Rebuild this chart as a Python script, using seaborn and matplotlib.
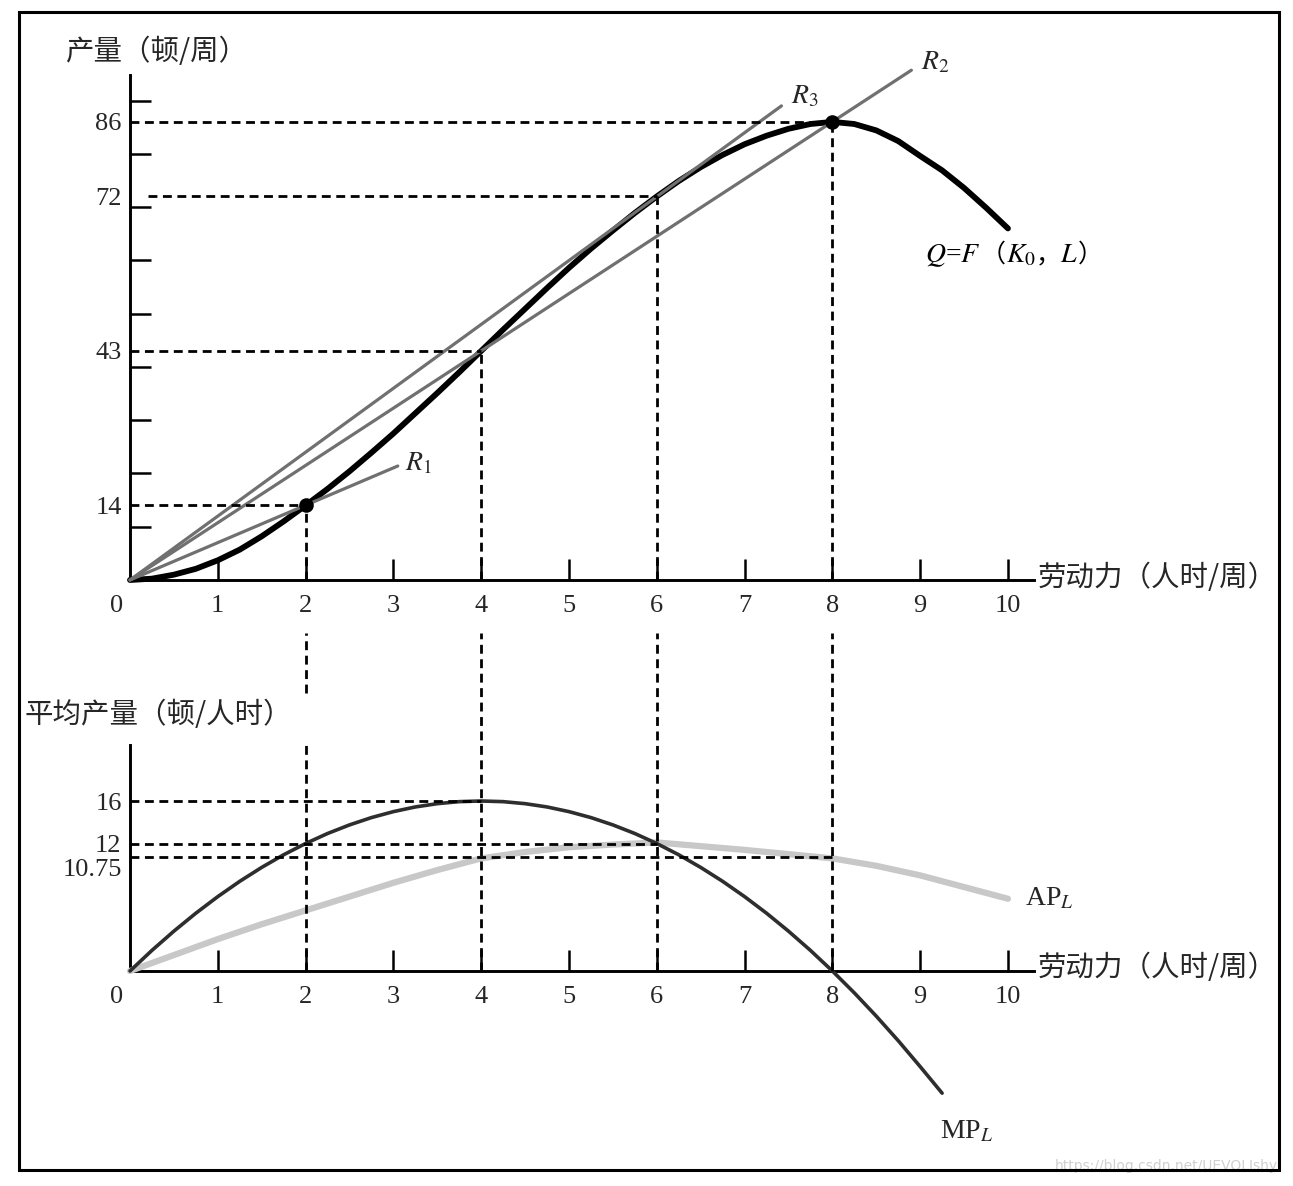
import matplotlib
matplotlib.use("Agg")
import matplotlib.pyplot as plt
import seaborn as sns
import pandas as pd
from matplotlib.patches import Rectangle
from matplotlib.offsetbox import TextArea, HPacker, AnnotationBbox

sns.set_theme(style="white")
plt.rcParams['font.family'] = ['Liberation Serif', 'Noto Sans CJK SC', 'DejaVu Sans']
plt.rcParams['mathtext.fontset'] = 'stix'
plt.rcParams['axes.unicode_minus'] = False

CJK = ['Noto Sans CJK SC', 'DejaVu Sans']

# ---- data ----
# total product Q=F(K0, L)
q_labor = [0, 0.25, 0.5, 0.75, 1, 1.25, 1.5, 1.75, 2, 2.25, 2.5, 2.75, 3,
           3.25, 3.5, 3.75, 4, 4.25, 4.5, 4.75, 5, 5.25, 5.5, 5.75, 6,
           6.25, 6.5, 6.75, 7, 7.25, 7.5, 7.75, 8, 8.25, 8.5, 8.75, 9,
           9.25, 9.5, 9.75, 10]
output_q = [0, 0.25, 1.0, 2.1, 3.7, 5.7, 8.2, 11.0, 14, 17.1, 20.4, 23.9, 27.5,
            31.3, 35.1, 39.0, 43, 47.0, 50.9, 54.8, 58.6, 62.2, 65.6, 68.9, 72,
            74.9, 77.5, 79.8, 81.8, 83.4, 84.7, 85.6, 86, 85.6, 84.4, 82.4, 79.6,
            76.9, 73.6, 69.9, 66]

# average product AP_L
ap_labor = [0, 0.5, 1, 1.5, 2, 2.5, 3, 3.5, 4, 4.5, 5,
            5.5, 6, 6.5, 7, 7.5, 8, 8.5, 9, 9.5, 10]
avg_product = [0, 1.5, 3.0, 4.4, 5.7, 7.0, 8.3, 9.5, 10.6, 11.2, 11.65,
               11.9, 12.1, 11.75, 11.4, 11.0, 10.6, 9.9, 9.0, 7.9, 6.8]

# marginal product MP_L
mp_labor = [0, 0.25, 0.5, 0.75, 1, 1.25, 1.5, 1.75, 2, 2.25, 2.5, 2.75, 3,
            3.25, 3.5, 3.75, 4, 4.25, 4.5, 4.75, 5, 5.25, 5.5, 5.75, 6,
            6.25, 6.5, 6.75, 7, 7.25, 7.5, 7.75, 8, 8.25, 8.5, 8.75, 9, 9.25]
marg_product = [0, 1.94, 3.75, 5.44, 7, 8.44, 9.75, 10.94, 12, 12.94, 13.75, 14.44, 15,
                15.44, 15.75, 15.94, 16, 15.94, 15.75, 15.44, 15, 14.44, 13.75, 12.94, 12,
                10.94, 9.75, 8.44, 7, 5.44, 3.75, 1.94, 0, -2.06, -4.25, -6.56, -9, -11.5]

# rays from the origin
ray_names = ['$R_1$', '$R_2$', '$R_3$']
ray_end_l = [3.05, 8.9, 7.42]
ray_end_q = [21.4, 95.7, 89.0]

dot_l = [2, 8]
dot_q = [14, 86]

mark_l = [2, 4, 6, 8]
mark_q = [14, 43, 72, 86]
q_tick_labels = ['14', '43', '72', '86']

ap_levels = [16, 12, 10.75]
ap_level_l = [4, 6, 8]

x_ticks = [1, 2, 3, 4, 5, 6, 7, 8, 9, 10]

# ---- figure / layout ----
W, H = 1293, 1186
fig = plt.figure(figsize=(W / 100, H / 100), dpi=100)

ax1 = fig.add_axes([130 / W, 1 - 580 / H, 904.3 / W, 505 / H])
ax2 = fig.add_axes([130 / W, 76.9 / H, 904.3 / W, 364.4 / H])

dash = (0, (3.2, 2.0))

# ---- top panel ----
sns.lineplot(x=q_labor, y=output_q, ax=ax1, color='black', linewidth=4.2,
             zorder=3, clip_on=False, solid_capstyle='round', solid_joinstyle='round')

rays = pd.DataFrame({
    'ray': [n for n in ray_names for _ in range(2)],
    'L': [v for e in ray_end_l for v in (0, e)],
    'Q': [v for e in ray_end_q for v in (0, e)],
})
sns.lineplot(data=rays, x='L', y='Q', units='ray', estimator=None, ax=ax1,
             color='#707070', linewidth=2.3, zorder=4, clip_on=False)
sns.scatterplot(x=dot_l, y=dot_q, ax=ax1, s=110, color='black',
                linewidth=0, zorder=7, clip_on=False)

ax1.hlines(mark_q, [0, 0, 0.2, 0], mark_l, colors='black', lw=2.0,
           linestyles=dash, zorder=5)
ax1.vlines(mark_l, 0, mark_q, colors='black', lw=2.0, linestyles=dash, zorder=5)

offs = [(7, 2), (10, 8), (10, 9)]
for name, el, eq, off in zip(ray_names, ray_end_l, ray_end_q, offs):
    ax1.annotate(name, xy=(el, eq), xytext=off, textcoords='offset pixels',
                 fontsize=20, ha='left', va='center', annotation_clip=False)

parts = [("$Q$=$F$", None), ("（", CJK), ("$K_0$", None), ("，", CJK),
         ("$L$", None), ("）", CJK)]
areas = []
for s, fam in parts:
    props = dict(fontsize=20, color='black')
    if fam:
        props['family'] = fam
        props['fontsize'] = 18
    areas.append(TextArea(s, textprops=props))
qbox = HPacker(children=areas, align='baseline', pad=0, sep=0)
ab = AnnotationBbox(qbox, (q_labor[-1], output_q[-1]), xybox=(-83, -27),
                    boxcoords='offset pixels', box_alignment=(0, 0.5),
                    frameon=False, pad=0, annotation_clip=False)
ax1.add_artist(ab)

ax1.set_xlim(0, 10.3)
ax1.set_ylim(0, 94.8)
ax1.set_xticks(x_ticks)
ax1.set_xticklabels([str(t) for t in x_ticks])
ax1.set_yticks(mark_q)
ax1.set_yticklabels(q_tick_labels)
ax1.set_yticks(range(10, 100, 10), minor=True)
ax1.annotate('0', xy=(0, 0), xytext=(-13, -15), textcoords='offset pixels',
             ha='center', va='top', fontsize=19, annotation_clip=False)

# ---- bottom panel ----
sns.lineplot(x=ap_labor, y=avg_product, ax=ax2, color='#c8c8c8', linewidth=4.5,
             zorder=3, clip_on=False, solid_capstyle='round', solid_joinstyle='round')
sns.lineplot(x=mp_labor, y=marg_product, ax=ax2, color='#2e2e2e', linewidth=2.6,
             zorder=4, clip_on=False, solid_joinstyle='round')

ax2.hlines(ap_levels, 0, ap_level_l, colors='black', lw=2.0,
           linestyles=dash, zorder=5)
# vertical guides running up between the two panels
gap_top = (971 - 633) / 10.625
ax2.vlines([4, 6, 8], 0, gap_top, colors='black', lw=2.0, linestyles=dash,
           zorder=5, clip_on=False)
ax2.vlines([2, 2], [0, (971 - 693) / 10.625], [(971 - 743) / 10.625, gap_top],
           colors='black', lw=2.0, linestyles=dash, zorder=5, clip_on=False)

ax2.annotate('AP$_L$', xy=(ap_labor[-1], avg_product[-1]), xytext=(17, 0),
             textcoords='offset pixels', fontsize=20, ha='left', va='center',
             annotation_clip=False)
ax2.annotate('MP$_L$', xy=(mp_labor[-1], marg_product[-1]), xytext=(-2, -38),
             textcoords='offset pixels', fontsize=20, ha='left', va='center',
             annotation_clip=False)

ax2.set_xlim(0, 10.3)
ax2.set_ylim(-13, 21.3)
ax2.set_xticks(x_ticks)
ax2.set_xticklabels([str(t) for t in x_ticks])
ax2.set_yticks(ap_levels[:2])
ax2.set_yticklabels(['16', '12'])
ax2.annotate('10.75', xy=(0, ap_levels[2]), xytext=(-8, -13),
             textcoords='offset pixels', ha='right', va='center', fontsize=19,
             annotation_clip=False)
ax2.annotate('0', xy=(0, 0), xytext=(-13, -15), textcoords='offset pixels',
             ha='center', va='top', fontsize=19, annotation_clip=False)
ax2.spines['bottom'].set_position(('data', 0))
ax2.spines['left'].set_bounds(0, 21.3)

for ax in (ax1, ax2):
    ax.set_xlabel('')
    ax.set_ylabel('')
    ax.set_facecolor('none')
    for side in ('top', 'right'):
        ax.spines[side].set_visible(False)
    for side in ('left', 'bottom'):
        ax.spines[side].set_color('black')
        ax.spines[side].set_linewidth(2.1)
    ax.tick_params(axis='x', which='major', direction='in', length=15, width=1.8,
                   color='black', pad=11, labelsize=19, bottom=True)
    ax.tick_params(axis='y', which='major', length=0, pad=6, labelsize=19, left=True)
    ax.grid(False)
ax1.tick_params(axis='y', which='minor', direction='in', length=15, width=1.8,
                color='black', left=True)

# ---- axis titles ----
fig.text(65 / W, 1 - 52 / H, '产量（顿/周）', fontsize=20.5, family=CJK, va='center')
fig.text(1038 / W, 1 - 578 / H, '劳动力（人时/周）', fontsize=20.5, family=CJK, va='center')
fig.text(25 / W, 1 - 715 / H, '平均产量（顿/人时）', fontsize=20.5, family=CJK, va='center')
fig.text(1038 / W, 1 - 968 / H, '劳动力（人时/周）', fontsize=20.5, family=CJK, va='center')

fig.text(1055 / W, 1 - 1166 / H, 'https://blog.csdn.net/UEVOLIshy', color='#d0d0d0',
         fontsize=10, family='DejaVu Sans', va='center')

fig.add_artist(Rectangle((19 / W, 1 - 1170 / H), 1260 / W, 1158 / H,
                         transform=fig.transFigure, fill=False, lw=2.2,
                         ec='black', zorder=10))

fig.savefig('out.png', dpi=100)
